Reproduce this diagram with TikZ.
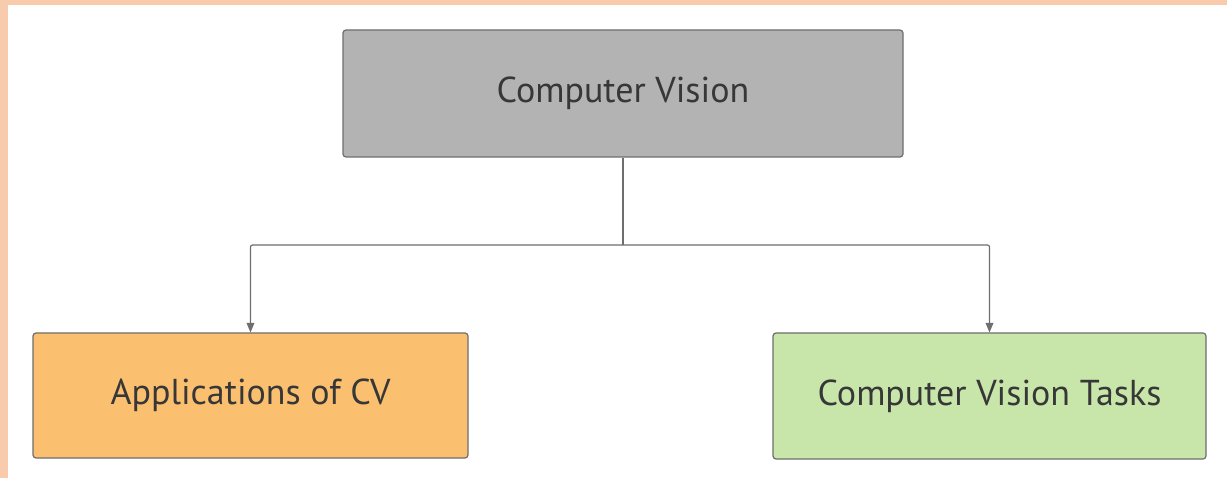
\documentclass[tikz,border=0pt]{standalone}
\usepackage{fontspec}
\setmainfont{PT Sans}
\usetikzlibrary{shapes,arrows}
\definecolor{peach}{RGB}{248,203,173}
\definecolor{cvgray}{RGB}{179,179,179}
\definecolor{apporange}{RGB}{250,192,112}
\definecolor{taskgreen}{RGB}{201,230,170}
\definecolor{linegray}{RGB}{110,110,110}
\definecolor{textgray}{RGB}{55,55,55}
\tikzset{
  box/.style      = {draw=linegray, line width=1.2pt, rectangle, rounded corners=3pt,
                     text=textgray, font=\fontsize{36}{40}\selectfont},
  cvbox/.style    = {box, fill=cvgray, minimum width=560pt, minimum height=127pt},
  appbox/.style   = {box, fill=apporange, minimum width=435pt, minimum height=125pt},
  taskbox/.style  = {box, fill=taskgreen, minimum width=433pt, minimum height=126pt},
  link/.style     = {draw=linegray, line width=1.2pt, rounded corners=2pt}
}
\begin{document}
\begin{tikzpicture}[x=1pt, y=-1pt, >=triangle 45]

% Frame
\useasboundingbox (0,0) rectangle (1227,478);
\fill[white] (0,0) rectangle (1227,478);
\fill[peach] (0,0) rectangle (1227,5);
\fill[peach] (0,0) rectangle (8,478);

% Boxes
\draw node [cvbox] (cv) at (623,93.5) {Computer Vision};
\draw node [appbox, below of=cv, xshift=-372.5pt, node distance=302pt] (apps) {Applications of CV};
\draw node [taskbox, below of=cv, xshift=366.5pt, node distance=302.5pt] (tasks) {Computer Vision Tasks};

% Connections
\coordinate (split) at (623,245);
\draw[link] (cv.south) -- (split);
\draw[link, -{triangle 45[scale=1.4]}] (split) -| (apps.north);
\draw[link, -{triangle 45[scale=1.4]}] (split) -| (tasks.north);

\end{tikzpicture}
\end{document}
